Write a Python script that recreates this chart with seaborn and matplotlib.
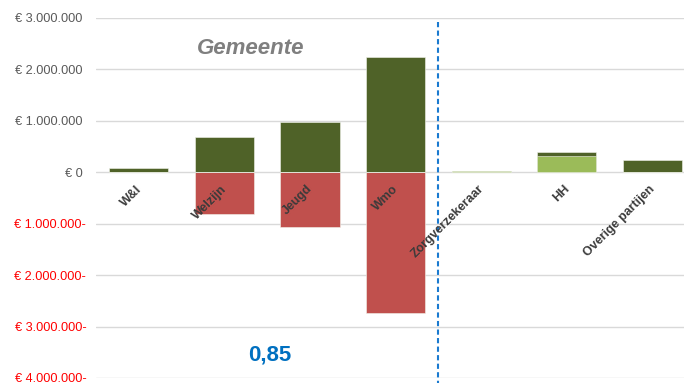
import matplotlib
matplotlib.use("Agg")
import matplotlib.pyplot as plt
import seaborn as sns
import pandas as pd
from matplotlib.ticker import FixedLocator, FuncFormatter

# Balance per partij (euro)
categories = ["W&I", "Welzijn", "Jeugd", "Wmo", "Zorgverzekeraar", "HH", "Overige partijen"]
baten_donker = [75_000, 680_000, 970_000, 2_240_000, 0, 80_000, 245_000]
baten_licht = [0, 0, 0, 0, 25_000, 320_000, 0]
lasten = [0, -820_000, -1_055_000, -2_740_000, 0, 0, 0]
y_ticks = [3_000_000, 2_000_000, 1_000_000, 0, -1_000_000, -2_000_000, -3_000_000, -4_000_000]
titel = "Gemeente"
ratio = "0,85"

sns.set_theme(style="white")
plt.rcParams["font.family"] = ["Liberation Sans", "DejaVu Sans"]

df = pd.DataFrame({
    "partij": categories,
    "donker": baten_donker,
    "licht": baten_licht,
    "lasten": lasten,
})
# dark segment sits on top of the light one
df["donker_top"] = df["donker"] + df["licht"]

fig = plt.figure(figsize=(6.84, 3.83), dpi=100)
W, H = 684, 383
ax = fig.add_axes([96 / W, 5 / H, (684 - 96) / W, (378 - 18) / H])

bar_kw = dict(width=0.69, saturation=1, linewidth=0.4, edgecolor="#f2f4ec", ax=ax)
sns.barplot(data=df, x="partij", y="lasten", color="#c0504d", **bar_kw)
sns.barplot(data=df, x="partij", y="donker_top", color="#4f6228", **bar_kw)
sns.barplot(data=df, x="partij", y="licht", color="#9bbb59", **bar_kw)

ax.set_xlim(-0.5, 6.37)
ax.set_ylim(-4_000_000, 3_000_000)
ax.set_xlabel("")
ax.set_ylabel("")
ax.set_xticks([])
for s in ax.spines.values():
    s.set_visible(False)

ax.set_axisbelow(True)
ax.yaxis.grid(True, color="#d9d9d9", linewidth=1)
ax.yaxis.set_major_locator(FixedLocator(y_ticks))


def euro(v, _pos=None):
    s = f"{abs(int(v)):,}".replace(",", ".")
    return f"€ {s}-" if v < 0 else f"€ {s} "


ax.yaxis.set_major_formatter(FuncFormatter(euro))
ax.tick_params(axis="y", length=0, pad=7, labelsize=9.2)
for lbl, v in zip(ax.get_yticklabels(), y_ticks):
    lbl.set_color("#ff0000" if v < 0 else "#595959")

# category labels along the zero line
for i, name in enumerate(categories):
    ax.annotate(name, xy=(i, 0), xytext=(1, -15), textcoords="offset pixels",
                rotation=45, rotation_mode="anchor", ha="right", va="center",
                fontsize=9, fontweight="bold", color="#3a3a3a")

# separator between gemeente and other parties
ax.plot([3.5, 3.5], [2_930_000, -4_300_000], color="#1a7ad0", linewidth=1.5,
        linestyle=(0, (2.5, 1.6)), clip_on=False)

fig.text(251 / W, 1 - 48 / H, titel, fontsize=16, fontweight="bold", fontstyle="italic",
         color="#7f7f7f", ha="center", va="center")
fig.text(270 / W, 1 - 355 / H, ratio, fontsize=16, fontweight="bold",
         color="#0070c0", ha="center", va="center")

fig.savefig("out.png", dpi=100)
